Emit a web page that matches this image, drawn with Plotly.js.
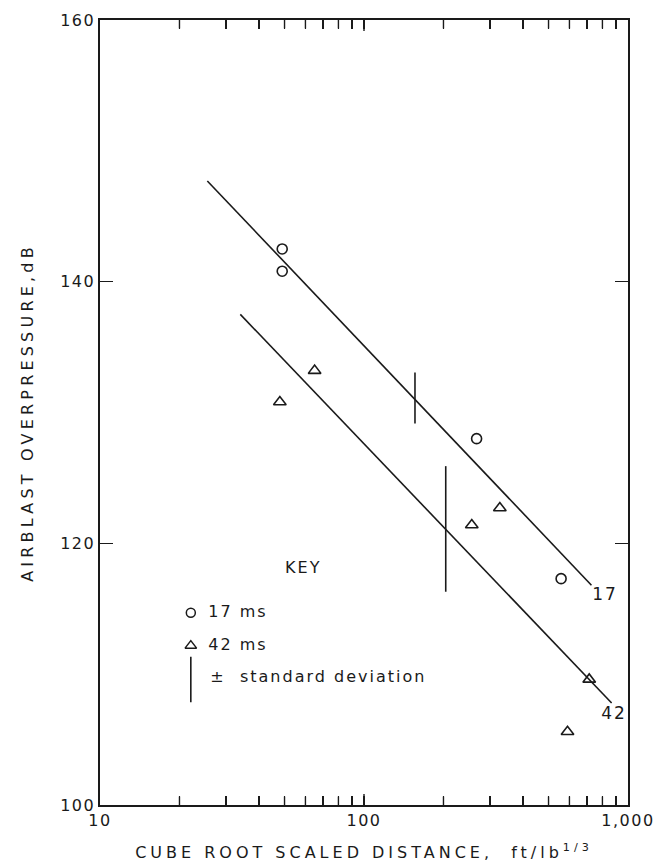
<!DOCTYPE html>
<html>
<head>
<meta charset="utf-8">
<script src="https://cdn.plot.ly/plotly-3.0.1.min.js"></script>
<style>
html,body{margin:0;padding:0;background:#fff;}
#chart{width:663px;height:867px;}
.xtitle{letter-spacing:4px;}
.ytitle{letter-spacing:4.2px;}
.xtick text,.ytick text{letter-spacing:1.5px;}
.textpoint text{letter-spacing:2px;}
</style>
</head>
<body>
<div id="chart"></div>
<script>
// ---- data ----
const ms17X = [49, 49, 267, 558];
const ms17Y = [142.5, 140.8, 128.0, 117.3];
const ms42X = [48, 65, 256, 327, 590, 713];
const ms42Y = [130.8, 133.2, 121.4, 122.7, 105.6, 109.6];
const fit17X = [25.5, 727];
const fit17Y = [147.7, 116.8];
const fit42X = [34, 867];
const fit42Y = [137.5, 107.8];
const sdX = [156, 204];
const sdY = [131.1, 121.1];
const sdErr = [1.95, 4.8];
const lineLabels = ['17', '42'];
const lineLabelX = [818, 885];
const lineLabelY = [116.0, 106.9];
const xTickVals = [10, 20, 30, 40, 50, 60, 70, 80, 90, 100, 200, 300, 400, 500, 600, 700, 800, 900, 1000];
const xTickText = ['10', '', '', '', '', '', '', '', '', '100', '', '', '', '', '', '', '', '', '1,000'];
const yTickVals = [100, 120, 140, 160];
const keyTitle = 'KEY';
const keyLabels = ['17 ms', '42 ms', '±  standard deviation'];

const FONT = 'DejaVu Sans, Noto Sans, sans-serif';
const INK = '#1a1a1a';

const Y_RANGE = [100, 160];
const PLOT_H = 867 - 20 - 62;
// x tick marks drawn as one-sided error bars at the bottom and top frame
const innerTicks = xTickVals.slice(1, -1);
const tickLenDb = innerTicks.map(v => (v === 100 ? 11 : 8.5) * (Y_RANGE[1] - Y_RANGE[0]) / PLOT_H);
const zeros = innerTicks.map(() => 0);

// key placement (fractions of the plot area, on an overlay axis pair)
const keyMarkX = 0.172, keyTextX = [0.205, 0.205, 0.209];
const keyRowY = [0.245, 0.203, 0.162];

const traces = [
  {x: fit17X, y: fit17Y, mode: 'lines', line: {color: INK, width: 1.6}},
  {x: fit42X, y: fit42Y, mode: 'lines', line: {color: INK, width: 1.6}},
  {x: ms17X, y: ms17Y, mode: 'markers', name: keyLabels[0],
   marker: {symbol: 'circle-open', size: 10, color: INK, line: {width: 1.6}}},
  {x: ms42X, y: ms42Y, mode: 'markers', name: keyLabels[1],
   marker: {symbol: 'triangle-up-open', size: 11, color: INK, line: {width: 1.6}}},
  {x: sdX, y: sdY, mode: 'markers', name: keyLabels[2],
   marker: {size: 0.1, color: 'rgba(0,0,0,0)'},
   error_y: {type: 'data', array: sdErr, visible: true, width: 0, thickness: 1.6, color: INK}},
  // frame tick marks (bottom and top)
  {x: innerTicks, y: innerTicks.map(() => Y_RANGE[0]), mode: 'markers', marker: {size: 0.1, color: 'rgba(0,0,0,0)'},
   error_y: {type: 'data', symmetric: false, array: tickLenDb, arrayminus: zeros, visible: true, width: 0, thickness: 1.4, color: INK}},
  {x: innerTicks, y: innerTicks.map(() => Y_RANGE[1]), mode: 'markers', marker: {size: 0.1, color: 'rgba(0,0,0,0)'},
   error_y: {type: 'data', symmetric: false, array: zeros, arrayminus: tickLenDb, visible: true, width: 0, thickness: 1.4, color: INK}},
  {x: lineLabelX, y: lineLabelY, mode: 'text', text: lineLabels, textposition: 'middle center',
   textfont: {family: FONT, size: 17, color: INK}, cliponaxis: false},
  // key
  {x: [0.385], y: [0.301], xaxis: 'x2', yaxis: 'y2', mode: 'text', text: [keyTitle], textposition: 'middle center',
   textfont: {family: FONT, size: 16, color: INK}, cliponaxis: false},
  {x: keyTextX, y: keyRowY, xaxis: 'x2', yaxis: 'y2', mode: 'text', text: keyLabels, textposition: 'middle right',
   textfont: {family: FONT, size: 16, color: INK}, cliponaxis: false},
  {x: [keyMarkX], y: [keyRowY[0]], xaxis: 'x2', yaxis: 'y2', mode: 'markers',
   marker: {symbol: 'circle-open', size: 9, color: INK, line: {width: 1.5}}},
  {x: [keyMarkX], y: [keyRowY[1]], xaxis: 'x2', yaxis: 'y2', mode: 'markers',
   marker: {symbol: 'triangle-up-open', size: 10, color: INK, line: {width: 1.5}}},
  {x: [keyMarkX, keyMarkX], y: [0.131, 0.189], xaxis: 'x2', yaxis: 'y2', mode: 'lines',
   line: {color: INK, width: 1.6}}
];

const layout = {
  width: 663, height: 867,
  margin: {l: 100, r: 35, t: 20, b: 62},
  paper_bgcolor: '#fff', plot_bgcolor: '#fff',
  showlegend: false,
  font: {family: FONT, size: 16, color: INK},
  xaxis: {
    type: 'log', range: [1, 3],
    tickmode: 'array', tickvals: xTickVals, ticktext: xTickText,
    ticks: 'inside', ticklen: 9, tickwidth: 1.4, tickcolor: INK,
    showline: true, linecolor: INK, linewidth: 1.6, mirror: 'ticks',
    showgrid: false, zeroline: false,
    tickfont: {family: FONT, size: 16, color: INK},
    title: {text: 'CUBE ROOT SCALED DISTANCE,  ft/lb<sup>1/3</sup>', standoff: 18,
            font: {family: FONT, size: 16, color: INK}}
  },
  yaxis: {
    range: Y_RANGE,
    tickmode: 'array', tickvals: yTickVals,
    ticks: 'inside', ticklen: 13, tickwidth: 1.4, tickcolor: INK,
    showline: true, linecolor: INK, linewidth: 1.6, mirror: 'ticks',
    showgrid: false, zeroline: false,
    title: {text: 'AIRBLAST OVERPRESSURE,dB', standoff: 22,
            font: {family: FONT, size: 16, color: INK}}
  },
  xaxis2: {overlaying: 'x', range: [0, 1], visible: false, fixedrange: true},
  yaxis2: {overlaying: 'y', range: [0, 1], visible: false, fixedrange: true}
};

Plotly.newPlot('chart', traces, layout, {staticPlot: true, displayModeBar: false});
</script>
</body>
</html>
